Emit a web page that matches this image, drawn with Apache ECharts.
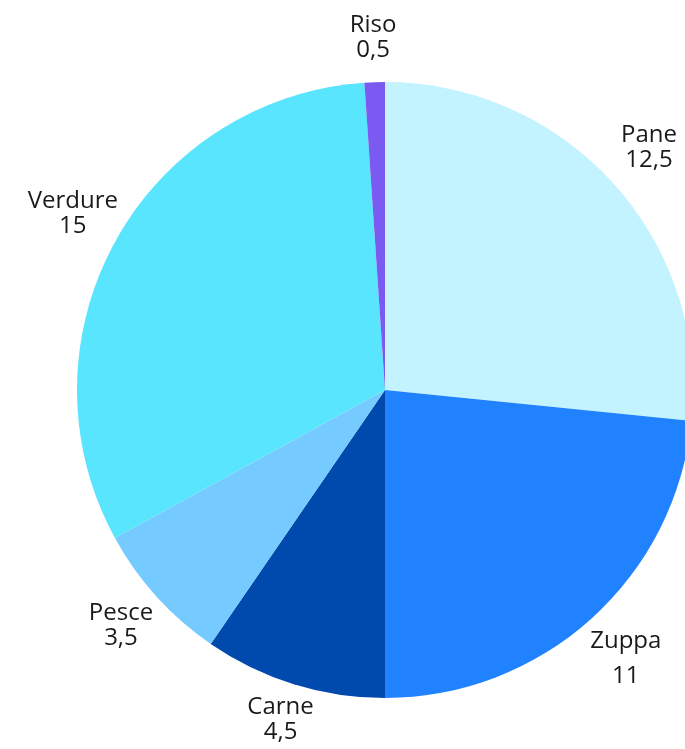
<!DOCTYPE html>
<html>
<head>
<meta charset="utf-8">
<script src="https://cdn.jsdelivr.net/npm/echarts@6/dist/echarts.min.js"></script>
<style>
  html, body { margin: 0; padding: 0; background: #fff; }
  #chart { width: 685px; height: 749px; }
</style>
</head>
<body>
<div id="chart"></div>
<script>
// dati
const categories = ['Pane', 'Zuppa', 'Carne', 'Pesce', 'Verdure', 'Riso'];
const values = [12.5, 11, 4.5, 3.5, 15, 0.5];
const colors = ['#c2f3fe', '#2182ff', '#0049ad', '#75cbff', '#5ae5fe', '#7a5af0'];

const fmt = v => String(v).replace('.', ',');

const chart = echarts.init(document.getElementById('chart'));

const pieData = categories.map((name, i) => ({
    name: name,
    value: values[i],
    itemStyle: {color: colors[i]}
}));

// anello trasparente che porta solo le etichette
const labelOffsets = {
    Pane: [0, -4],
    Zuppa: [2, 5],
    Carne: [1, -10],
    Pesce: [0, -3],
    Verdure: [0, -5],
    Riso: [0, 3]
};
const labelData = categories.map((name, i) => {
    const d = {name: name, value: values[i], label: {offset: labelOffsets[name]}};
    if (name === 'Zuppa') d.label.lineHeight = 35;
    return d;
});

chart.setOption({
    animation: false,
    series: [
        {
            type: 'pie',
            center: [385, 390],
            radius: [0, 308],
            startAngle: 90,
            clockwise: true,
            silent: true,
            label: {show: false},
            labelLine: {show: false},
            itemStyle: {borderWidth: 0},
            data: pieData
        },
        {
            type: 'pie',
            center: [385, 390],
            radius: [308, 398],
            startAngle: 90,
            clockwise: true,
            silent: true,
            itemStyle: {color: 'rgba(0,0,0,0)'},
            label: {
                show: true,
                position: 'inside',
                color: '#1a1a1a',
                fontFamily: 'Open Sans',
                fontSize: 24,
                lineHeight: 25,
                formatter: p => p.name + '\n' + fmt(p.value)
            },
            labelLine: {show: false},
            data: labelData
        }
    ]
});
</script>
</body>
</html>
